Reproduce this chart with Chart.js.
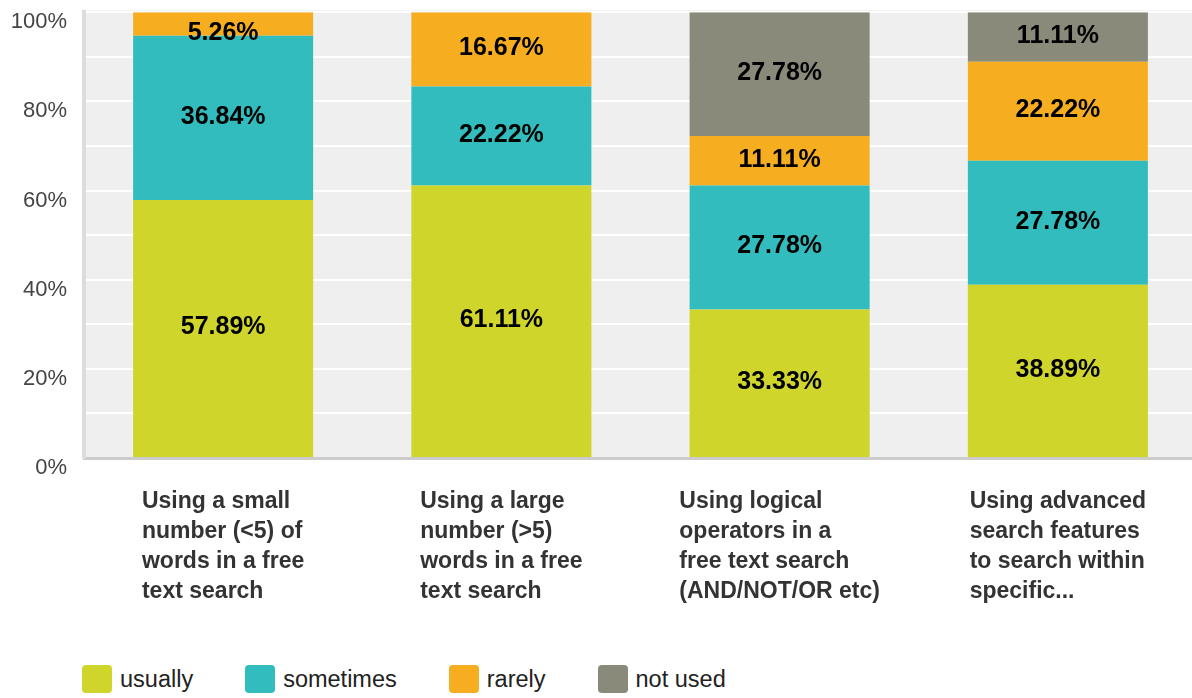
<!DOCTYPE html>
<html>
<head>
<meta charset="utf-8">
<script src="https://cdn.jsdelivr.net/npm/chart.js@4/dist/chart.umd.min.js"></script>
<style>
  html, body { margin: 0; padding: 0; background: #fff; width: 1192px; height: 698px; overflow: hidden; }
  #wrap { position: absolute; left: 0; top: -18px; width: 1197px; height: 665px; }
  #legend { position: absolute; left: 82px; top: 665px; display: flex; font-family: "Liberation Sans", Arial, sans-serif; font-size: 23.5px; color: #222; }
  .legend-item { display: flex; align-items: center; margin-right: 52px; }
  .legend-box { width: 30px; height: 28px; border-radius: 4px; margin-right: 8px; }
</style>
</head>
<body>
<div id="wrap"><canvas id="chart"></canvas></div>
<div id="legend"></div>
<script>
const categories = [
  ['Using a small', 'number (<5) of', 'words in a free', 'text search'],
  ['Using a large', 'number (>5)', 'words in a free', 'text search'],
  ['Using logical', 'operators in a', 'free text search', '(AND/NOT/OR etc)'],
  ['Using advanced', 'search features', 'to search within', 'specific...']
];
const seriesNames = ['usually', 'sometimes', 'rarely', 'not used'];
const usually = [57.89, 61.11, 33.33, 38.89];
const sometimes = [36.84, 22.22, 27.78, 27.78];
const rarely = [5.26, 16.67, 11.11, 22.22];
const notUsed = [0, 0, 27.78, 11.11];
const seriesColors = ['#cfd52a', '#33bcbe', '#f6ae20', '#8a8a7a'];
const yTicks = [0, 20, 40, 60, 80, 100];

const FONT = '"Liberation Sans", Arial, sans-serif';

// gray plot background
const plotBackground = {
  id: 'plotBackground',
  beforeDraw(chart) {
    const { ctx, chartArea } = chart;
    ctx.save();
    ctx.fillStyle = '#efefef';
    ctx.fillRect(chartArea.left, chartArea.top - 2, chartArea.right - chartArea.left, chartArea.bottom - chartArea.top + 2);
    ctx.restore();
  }
};

// percentage text in the middle of each segment
const segmentLabels = {
  id: 'segmentLabels',
  afterDatasetsDraw(chart) {
    const { ctx, chartArea } = chart;
    ctx.save();
    ctx.font = 'bold 25px ' + FONT;
    ctx.fillStyle = '#000';
    ctx.textAlign = 'center';
    ctx.textBaseline = 'middle';
    chart.data.datasets.forEach((ds, i) => {
      const meta = chart.getDatasetMeta(i);
      meta.data.forEach((bar, j) => {
        const v = ds.data[j];
        if (!v) return;
        let y = (bar.y + bar.base) / 2 - 1;
        y = Math.max(y, chartArea.top + 21);
        ctx.fillText(v.toFixed(2) + '%', bar.x, y);
      });
    });
    ctx.restore();
  }
};

// multi-line category labels, left aligned inside a centred block
const categoryLabels = {
  id: 'categoryLabels',
  afterDraw(chart) {
    const { ctx, chartArea } = chart;
    const xScale = chart.scales.x;
    ctx.save();
    ctx.font = 'bold 23px ' + FONT;
    ctx.fillStyle = '#333';
    ctx.textAlign = 'left';
    ctx.textBaseline = 'middle';
    categories.forEach((lines, i) => {
      const cx = xScale.getPixelForValue(i);
      const maxW = Math.max(...lines.map(l => ctx.measureText(l).width));
      const left = cx - maxW / 2;
      lines.forEach((line, k) => {
        ctx.fillText(line, left, chartArea.bottom + 44 + k * 30);
      });
    });
    ctx.restore();
  }
};

const seriesData = [usually, sometimes, rarely, notUsed];

new Chart(document.getElementById('chart'), {
  type: 'bar',
  data: {
    labels: categories.map(c => c.join(' ')),
    datasets: seriesNames.map((name, i) => ({
      label: name,
      data: seriesData[i],
      backgroundColor: seriesColors[i],
      borderWidth: 0,
      barPercentage: 0.647,
      categoryPercentage: 1
    }))
  },
  options: {
    responsive: true,
    maintainAspectRatio: false,
    animation: false,
    layout: { padding: { left: 0, top: 0, right: 0, bottom: 181 } },
    plugins: {
      legend: { display: false },
      tooltip: { enabled: false }
    },
    scales: {
      x: {
        stacked: true,
        grid: { display: false },
        border: { display: true, color: '#cccccc', width: 3 },
        ticks: { display: false }
      },
      y: {
        stacked: true,
        min: 0,
        max: 100,
        afterFit(scale) { scale.width = 84; },
        grid: { color: '#ffffff', lineWidth: 2, drawTicks: false },
        border: { display: true, color: '#dcdcdc', width: 4 },
        ticks: {
          stepSize: 10,
          padding: 17,
          labelOffset: 10,
          color: '#444',
          font: { family: FONT, size: 22 },
          callback: v => yTicks.includes(v) ? v + '%' : ''
        }
      }
    }
  },
  plugins: [plotBackground, segmentLabels, categoryLabels]
});

// legend
const legendEl = document.getElementById('legend');
seriesNames.forEach((name, i) => {
  const item = document.createElement('div');
  item.className = 'legend-item';
  const box = document.createElement('div');
  box.className = 'legend-box';
  box.style.backgroundColor = seriesColors[i];
  const label = document.createElement('span');
  label.textContent = name;
  item.appendChild(box);
  item.appendChild(label);
  legendEl.appendChild(item);
});
</script>
</body>
</html>
